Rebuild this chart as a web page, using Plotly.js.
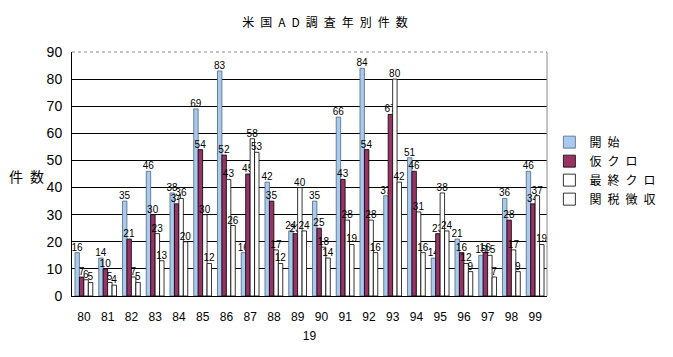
<!DOCTYPE html>
<html>
<head>
<meta charset="utf-8">
<script src="https://cdn.plot.ly/plotly-3.0.1.min.js"></script>
<style>html,body{margin:0;padding:0;background:#fff;}#chart{width:673px;height:357px;}</style>
</head>
<body>
<div id="chart"></div>
<script>
const years = ["80","81","82","83","84","85","86","87","88","89","90","91","92","93","94","95","96","97","98","99"];
const seriesNames = ["開\u2002始", "仮\u2002ク\u2002ロ", "最\u2002終\u2002ク\u2002ロ", "関\u2002税\u2002徴\u2002収"];
const kaishi   = [16, 14, 35, 46, 38, 69, 83, 16, 42, 24, 35, 66, 84, 37, 51, 14, 21, 15, 36, 46];
const karikuro = [7, 10, 21, 30, 34, 54, 52, 45, 35, 23, 25, 43, 54, 67, 46, 23, 16, 16, 28, 34];
const saishu   = [6, 5, 7, 23, 36, 30, 43, 58, 17, 40, 18, 28, 28, 80, 31, 38, 12, 15, 17, 37];
const kanzei   = [5, 4, 5, 13, 20, 12, 26, 53, 12, 24, 14, 19, 16, 42, 16, 24, 9, 7, 9, 19];
const colors = ["#A6CAF0", "#993366", "#FFFFFF", "#FFFFFF"];

const allSeries = [kaishi, karikuro, saishu, kanzei];
const traces = allSeries.map((vals, i) => ({
  type: "bar",
  name: seriesNames[i],
  x: years,
  y: vals,
  text: vals.map(String),
  textposition: "outside",
  textangle: 0,
  constraintext: "none",
  cliponaxis: false,
  textfont: {family: "Liberation Sans, Arial, sans-serif", size: 10, color: "#000"},
  marker: {color: colors[i], line: {color: i === 0 ? "#556677" : "#000", width: 0.8}},
  hoverinfo: "none"
}));

const layout = {
  width: 673, height: 357,
  margin: {l: 72, r: 113, t: 52, b: 61},
  paper_bgcolor: "#fff", plot_bgcolor: "#fff",
  barmode: "group",
  bargap: 0.25,
  bargroupgap: 0,
  showlegend: true,
  title: {text: "米\u2002国\u2002A\u2002D\u2002調\u2002査\u2002年\u2002別\u2002件\u2002数", x: 0.483, xanchor: "center", y: 0.935, yanchor: "middle",
          font: {family: "Noto Sans CJK JP", size: 12, color: "#000"}},
  xaxis: {
    type: "category",
    showline: true, linecolor: "#000", linewidth: 1,
    ticks: "", showgrid: false,
    ticklabelstandoff: 10,
    tickfont: {family: "Liberation Sans, Arial, sans-serif", size: 12, color: "#000"},
    title: {text: "19", standoff: 8, font: {family: "Liberation Sans, Arial, sans-serif", size: 12, color: "#000"}}
  },
  yaxis: {
    range: [0, 90], dtick: 10, tick0: 0,
    showline: true, linecolor: "#000", linewidth: 1,
    showgrid: true, gridcolor: "#000", gridwidth: 1,
    zeroline: false,
    ticks: "", ticklabelstandoff: 6,
    tickfont: {family: "Liberation Sans, Arial, sans-serif", size: 14, color: "#000"}
  },
  legend: {
    x: 1.005, y: 0.69, xanchor: "left", yanchor: "top",
    font: {family: "Noto Sans CJK JP", size: 12, color: "#000"},
    itemwidth: 30, tracegroupgap: 0, bgcolor: "rgba(0,0,0,0)"
  },
  annotations: [{
    text: "件\u2002数", xref: "paper", yref: "paper", x: -0.055, y: 0.49, xanchor: "right", yanchor: "middle",
    showarrow: false, font: {family: "Noto Sans CJK JP", size: 14, color: "#000"}
  }],
  shapes: [
    {type: "line", xref: "paper", yref: "paper", x0: 0, x1: 1, y0: 1, y1: 1, line: {color: "#fff", width: 2}, layer: "above"},
    {type: "line", xref: "paper", yref: "paper", x0: 0, x1: 1, y0: 1, y1: 1, line: {color: "#888", width: 1, dash: "dot"}, layer: "above"},
    {type: "line", xref: "paper", yref: "paper", x0: 1, x1: 1, y0: 0, y1: 1, line: {color: "#888", width: 1}, layer: "above"}
  ]
};

Plotly.newPlot("chart", traces, layout, {displayModeBar: false, staticPlot: true});
</script>
</body>
</html>
